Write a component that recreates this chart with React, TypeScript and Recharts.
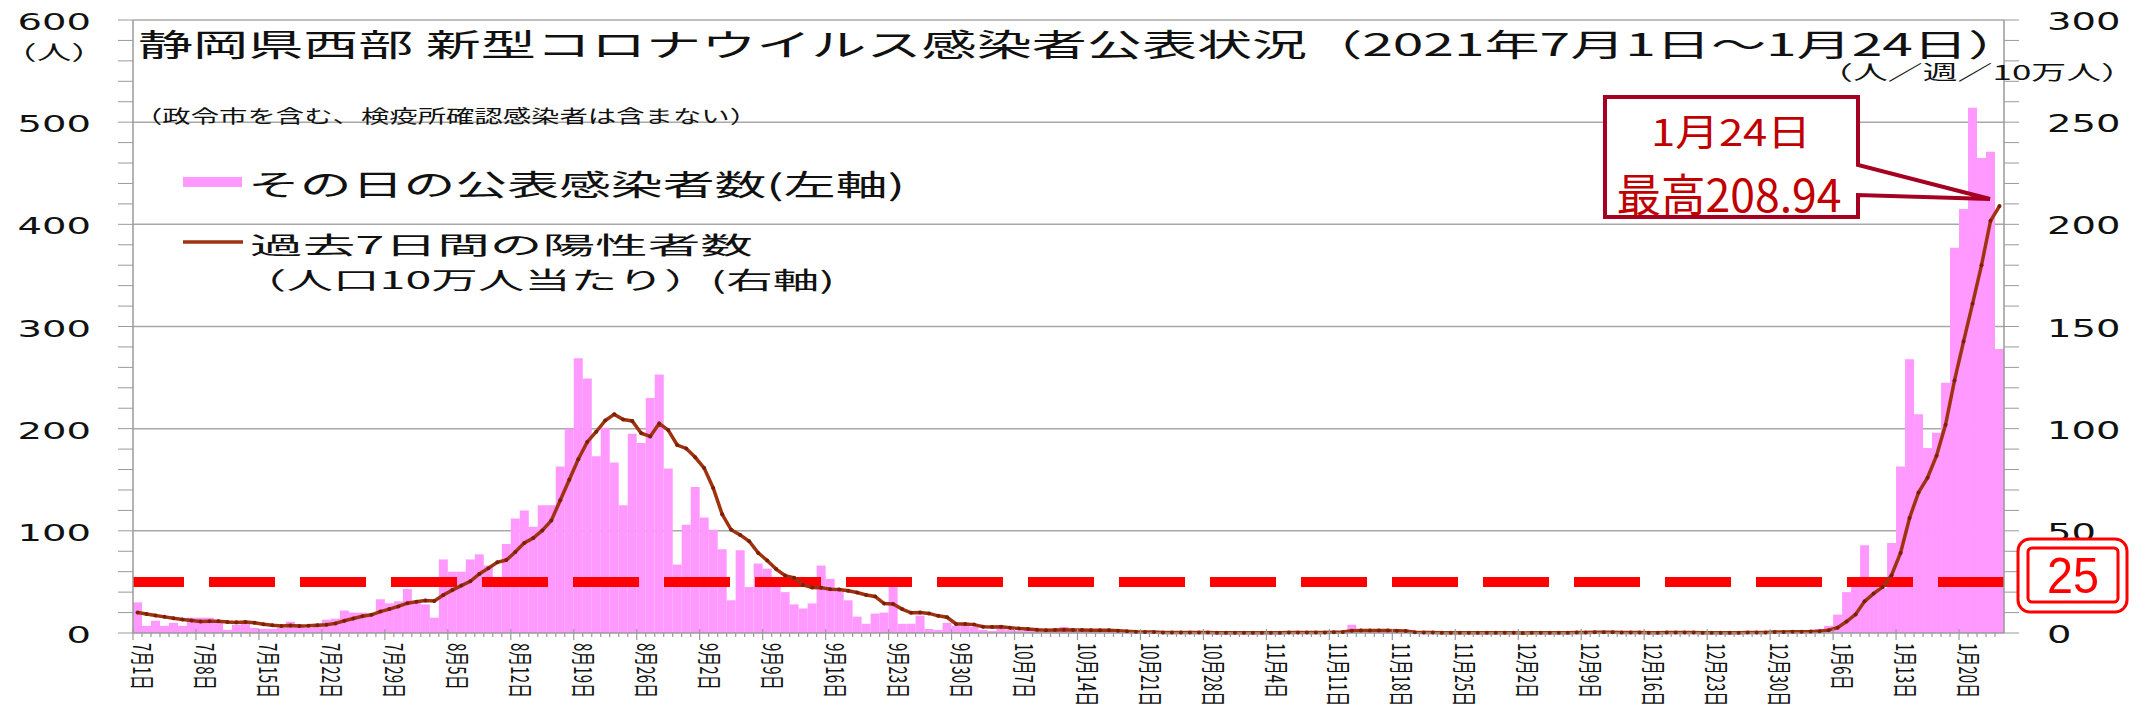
import React from 'react';
import { ComposedChart, Bar, Line, XAxis, YAxis, CartesianGrid, ReferenceLine } from 'recharts';

// 2021年7月〜2022年1月（月ごとの日別データ）
const months = [7, 8, 9, 10, 11, 12, 1];

// その日の公表感染者数（左軸・人）
const casesJul = [30, 7, 12, 7, 10, 7, 15, 15, 15, 12, 3, 8, 10, 5, 4, 4, 5, 11, 6, 5, 9, 13, 14, 22, 20, 20, 18, 33, 29, 31, 43];
const casesAug = [30, 28, 15, 72, 60, 60, 72, 77, 66, 53, 87, 112, 120, 104, 125, 125, 163, 200, 269, 249, 173, 201, 167, 125, 195, 186, 230, 253, 161, 67, 106];
const casesSep = [143, 113, 101, 82, 32, 81, 45, 68, 63, 45, 40, 28, 24, 29, 66, 53, 43, 32, 16, 9, 19, 20, 50, 9, 9, 17, 4, 3, 10, 7];
const casesOct = [8, 6, 3, 2, 5, 3, 2, 4, 2, 1, 3, 6, 2, 2, 1, 3, 1, 0, 1, 0, 1, 0, 1, 0, 0, 1, 0, 1, 0, 0, 0];
const casesNov = [0, 1, 0, 0, 0, 1, 0, 0, 1, 1, 2, 1, 8, 2, 1, 1, 1, 1, 0, 0, 0, 0, 0, 0, 1, 0, 0, 0, 0, 0];
const casesDec = [0, 0, 1, 0, 0, 0, 1, 1, 2, 1, 0, 0, 0, 0, 1, 0, 0, 1, 0, 0, 0, 0, 0, 1, 0, 0, 1, 1, 1, 2, 1];
const casesJan = [2, 1, 2, 4, 7, 18, 40, 48, 86, 52, 44, 88, 163, 268, 214, 181, 196, 245, 377, 415, 514, 465, 471, 278];

// 過去7日間の陽性者数（人口10万人当たり・右軸）
const rateJul = [10.0, 9.3, 8.6, 7.9, 7.2, 6.6, 6.1, 5.6, 5.8, 5.7, 5.4, 5.2, 5.4, 5.0, 4.3, 3.8, 3.4, 3.7, 3.4, 3.5, 3.8, 4.0, 4.7, 6.0, 7.1, 8.2, 8.9, 10.5, 11.7, 13.0, 14.6];
const rateAug = [15.3, 15.9, 15.7, 18.6, 21.0, 23.2, 25.3, 28.9, 31.7, 34.6, 35.7, 39.6, 44.1, 46.5, 50.2, 55.0, 65.0, 75.0, 85.0, 93.5, 98.5, 104.0, 107.0, 104.5, 103.8, 97.8, 96.2, 102.5, 99.3, 92.0, 90.3];
const rateSep = [86.0, 80.7, 71.0, 58.1, 50.5, 48.0, 44.9, 39.2, 35.5, 31.3, 28.1, 27.0, 23.5, 22.3, 22.2, 21.4, 21.3, 20.7, 19.8, 18.6, 17.9, 14.4, 14.2, 11.7, 9.9, 10.0, 9.6, 8.4, 7.7, 4.4];
const rateOct = [4.4, 4.1, 3.1, 2.9, 3.1, 2.6, 2.2, 1.9, 1.6, 1.4, 1.5, 1.6, 1.5, 1.5, 1.3, 1.4, 1.4, 1.1, 0.8, 0.6, 0.5, 0.5, 0.3, 0.2, 0.2, 0.2, 0.2, 0.2, 0.1, 0.1, 0.1];
const rateNov = [0.1, 0.1, 0.1, 0.1, 0.1, 0.2, 0.2, 0.2, 0.2, 0.3, 0.4, 0.5, 1.1, 1.2, 1.2, 1.2, 1.2, 1.1, 1.0, 0.4, 0.2, 0.2, 0.1, 0.1, 0.1, 0.1, 0.1, 0.1, 0.1, 0.1];
const rateDec = [0.1, 0.0, 0.1, 0.1, 0.1, 0.1, 0.1, 0.2, 0.3, 0.4, 0.4, 0.4, 0.3, 0.3, 0.3, 0.1, 0.1, 0.2, 0.2, 0.2, 0.2, 0.1, 0.1, 0.1, 0.1, 0.1, 0.2, 0.2, 0.3, 0.5, 0.5];
const rateJan = [0.6, 0.6, 0.7, 0.9, 1.4, 2.6, 5.6, 9.1, 15.5, 19.3, 22.5, 28.3, 39.2, 56.3, 68.8, 76.0, 86.8, 101.9, 123.6, 142.6, 161.1, 180.0, 201.7, 208.94];

const leftTicks = [0, 20, 40, 60, 80, 100, 120, 140, 160, 180, 200, 220, 240, 260, 280, 300, 320, 340, 360, 380, 400, 420, 440, 460, 480, 500, 520, 540, 560, 580, 600];
const rightTicks = [0, 10, 20, 30, 40, 50, 60, 70, 80, 90, 100, 110, 120, 130, 140, 150, 160, 170, 180, 190, 200, 210, 220, 230, 240, 250, 260, 270, 280, 290, 300];
const gridValues = [100, 200, 300, 400, 500, 600];
const threshold = 25;

const monthCases = [casesJul, casesAug, casesSep, casesOct, casesNov, casesDec, casesJan];
const monthRate = [rateJul, rateAug, rateSep, rateOct, rateNov, rateDec, rateJan];

const data = months.flatMap((m, mi) =>
  monthCases[mi].map((c, d) => ({ label: `${m}月${d + 1}日`, cases: c, rate: monthRate[mi][d] }))
);
const labelIndex = new Map(data.map((d, i) => [d.label, i]));

const W = 2138;
const H = 714;
const LEFT_W = 133;
const RIGHT_W = 134;
const TOP = 20;
const X_H = 81;
const BAND = (W - LEFT_W - RIGHT_W) / data.length;

const AXIS = '#9a9a9a';
const LINE = '#A0330F';
const JP = '"Noto Sans CJK JP", "Noto Sans", sans-serif';
const NUM = '"DejaVu Sans", sans-serif';

const XTick = (props: any) => {
  const { x, y, payload } = props;
  const i = labelIndex.get(payload.value) ?? 0;
  const left = x - BAND / 2;
  const major = i % 7 === 0;
  return (
    <g>
      <line x1={left} y1={major ? y - 4 : y} x2={left} y2={major ? y + 7 : y + 4} stroke={AXIS} strokeWidth={1.2} />
      {major && (
        <text
          transform={`translate(${left + 11},${y + 10}) rotate(90) scale(1,1.65)`}
          fontSize={15}
          fontFamily={JP}
          dominantBaseline="central"
          fill="#111"
        >
          {payload.value}
        </text>
      )}
    </g>
  );
};

const LeftTick = (props: any) => {
  const { x, y, payload } = props;
  if (payload.value % 100 !== 0) return <g />;
  const s = String(payload.value);
  return (
    <text x={x - 25} y={y + 2} textAnchor="end" dominantBaseline="central" fontSize={23} fontFamily={NUM}
      textLength={24.5 * s.length} lengthAdjust="spacingAndGlyphs" fill="#111">
      {s}
    </text>
  );
};

const RightTick = (props: any) => {
  const { x, y, payload } = props;
  if (payload.value % 50 !== 0) return <g />;
  const s = String(payload.value);
  return (
    <text x={x + 26} y={y + 2} textAnchor="start" dominantBaseline="central" fontSize={24} fontFamily={NUM}
      textLength={24.5 * s.length} lengthAdjust="spacingAndGlyphs" fill="#111">
      {s}
    </text>
  );
};

const Overlay = () => (
  <svg width={W} height={H} style={{ position: 'absolute', left: 0, top: 0, pointerEvents: 'none' }}>
    <text x={138} y={42} fontSize={31} fontFamily={JP} dominantBaseline="central" fill="#111"
      textLength={1885} lengthAdjust="spacingAndGlyphs">
      静岡県西部 新型コロナウイルス感染者公表状況（2021年7月1日～1月24日）
    </text>
    <text x={134} y={115} fontSize={18} fontFamily={JP} dominantBaseline="central" fill="#111"
      textLength={624} lengthAdjust="spacingAndGlyphs">
      （政令市を含む、検疫所確認感染者は含まない）
    </text>
    <text x={2} y={51} fontSize={20} fontFamily={JP} dominantBaseline="central" fill="#111"
      textLength={104} lengthAdjust="spacingAndGlyphs">
      （人）
    </text>
    <text x={1818} y={71} fontSize={20} fontFamily={JP} dominantBaseline="central" fill="#111"
      textLength={318} lengthAdjust="spacingAndGlyphs">
      （人／週／10万人）
    </text>

    <rect x={183} y={177} width={59} height={10} fill="#FF99FF" />
    <text x={248} y={183} fontSize={29} fontFamily={JP} dominantBaseline="central" fill="#111"
      textLength={657} lengthAdjust="spacingAndGlyphs">
      その日の公表感染者数(左軸)
    </text>
    <line x1={183} y1={242} x2={243} y2={242} stroke={LINE} strokeWidth={3.5} />
    <text x={250} y={243} fontSize={24} fontFamily={JP} dominantBaseline="central" fill="#111"
      textLength={503} lengthAdjust="spacingAndGlyphs">
      過去7日間の陽性者数
    </text>
    <text x={240} y={278} fontSize={24} fontFamily={JP} dominantBaseline="central" fill="#111"
      textLength={595} lengthAdjust="spacingAndGlyphs">
      （人口10万人当たり）(右軸)
    </text>

    <path d="M1605,97 H1858 V165 L1990,199 L1858,195 V217 H1605 Z" fill="#fff" stroke="#A50021" strokeWidth={4} strokeLinejoin="miter" />
    <text x={1731} y={130} fontSize={37} fontFamily={JP} textAnchor="middle" dominantBaseline="central" fill="#C00000"
      textLength={160} lengthAdjust="spacingAndGlyphs">
      1月24日
    </text>
    <text x={1729} y={192} fontSize={45} fontFamily={JP} textAnchor="middle" dominantBaseline="central" fill="#C00000"
      textLength={225} lengthAdjust="spacingAndGlyphs">
      最高208.94
    </text>

    <rect x={2018} y={539} width={109} height={73} rx={12} fill="#fff" stroke="#FF0000" strokeWidth={3} />
    <rect x={2028} y={548} width={90} height={54} rx={4} fill="none" stroke="#FF0000" strokeWidth={3} />
    <text x={2073} y={576} fontSize={50} fontFamily='"Liberation Sans", sans-serif' textAnchor="middle" dominantBaseline="central"
      fill="#FF0000" textLength={52} lengthAdjust="spacingAndGlyphs">
      25
    </text>
  </svg>
);

const App: React.FC = () => (
  <div style={{ position: 'absolute', left: 0, top: 0, width: W, height: H, background: '#fff' }}>
    <ComposedChart
      width={W}
      height={H}
      data={data}
      margin={{ top: TOP, right: 0, left: 0, bottom: 0 }}
      barCategoryGap={0}
      barGap={0}
    >
      <CartesianGrid yAxisId="left" vertical={false} horizontalValues={gridValues} stroke="#a8a8a8" strokeWidth={1.5} />
      <XAxis
        dataKey="label"
        interval={0}
        height={X_H}
        tick={<XTick />}
        tickLine={false}
        tickSize={0}
        tickMargin={0}
        axisLine={{ stroke: AXIS, strokeWidth: 1.5 }}
      />
      <YAxis
        yAxisId="left"
        orientation="left"
        width={LEFT_W}
        domain={[0, 600]}
        ticks={leftTicks}
        interval={0}
        tickSize={15}
        tick={<LeftTick />}
        tickLine={{ stroke: AXIS }}
        axisLine={{ stroke: AXIS, strokeWidth: 1.5 }}
      />
      <YAxis
        yAxisId="right"
        orientation="right"
        width={RIGHT_W}
        domain={[0, 300]}
        ticks={rightTicks}
        interval={0}
        tickSize={15}
        tick={<RightTick />}
        tickLine={{ stroke: AXIS }}
        axisLine={{ stroke: AXIS, strokeWidth: 1.5 }}
      />
      <Bar yAxisId="left" dataKey="cases" fill="#FF99FF" isAnimationActive={false} />
      <ReferenceLine yAxisId="right" y={threshold} stroke="#FF0000" strokeWidth={10} strokeDasharray="66 25" />
      <Line
        yAxisId="right"
        type="linear"
        dataKey="rate"
        stroke={LINE}
        strokeWidth={3.5}
        dot={{ r: 2, fill: '#7a2008', stroke: 'none' }}
        isAnimationActive={false}
      />
    </ComposedChart>
    <Overlay />
  </div>
);

export default App;
